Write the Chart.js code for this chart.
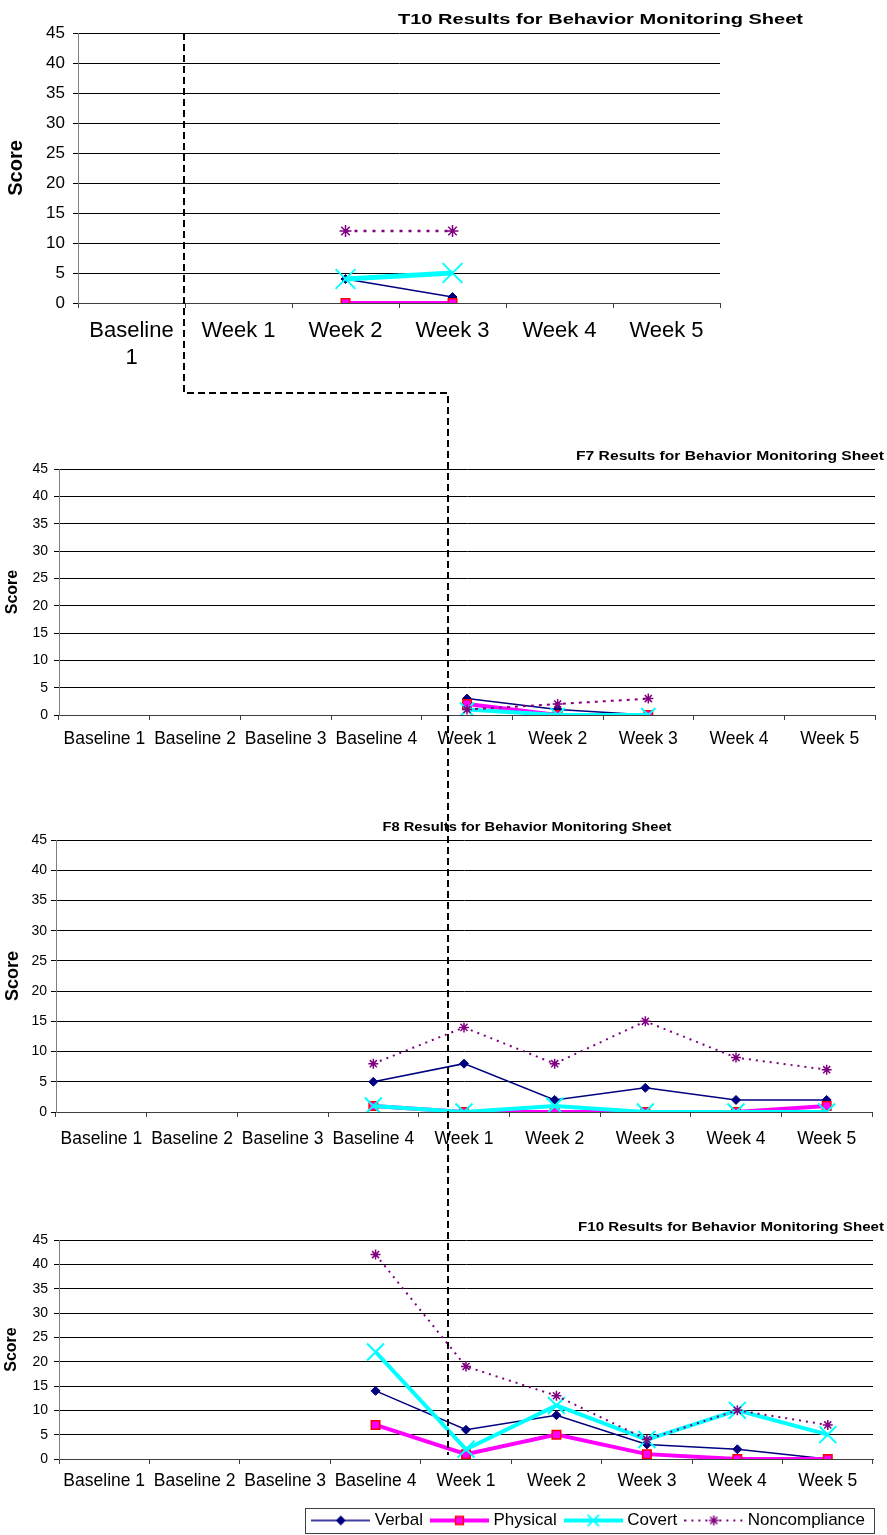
<!DOCTYPE html>
<html>
<head>
<meta charset="utf-8">
<script src="https://cdn.jsdelivr.net/npm/chart.js@4.4.0/dist/chart.umd.min.js"></script>
<style>
    html, body { margin: 0; padding: 0; background: #fff; overflow: hidden; }
    body { width: 887px; height: 1535px; position: relative; }
    .box { position: absolute; left: 0; width: 887px; }
    #connector { position: absolute; left: 0; top: 0; z-index: 10; pointer-events: none; }
</style>
</head>
<body>
<div class="box" style="top:0px"><canvas id="t10Chart" width="887" height="400"></canvas></div>
<div class="box" style="top:440px"><canvas id="f7Chart" width="887" height="320"></canvas></div>
<div class="box" style="top:800px"><canvas id="f8Chart" width="887" height="360"></canvas></div>
<div class="box" style="top:1200px"><canvas id="f10Chart" width="887" height="345"></canvas></div>
<canvas id="connector" width="887" height="1535"></canvas>

<script>
// Categories
const t10Labels = [['Baseline', '1'], 'Week 1', 'Week 2', 'Week 3', 'Week 4', 'Week 5'];
const fLabels = ['Baseline 1', 'Baseline 2', 'Baseline 3', 'Baseline 4', 'Week 1', 'Week 2', 'Week 3', 'Week 4', 'Week 5'];
const seriesNames = ['Verbal', 'Physical', 'Covert', 'Noncompliance'];

// T10
const t10Verbal = [null, null, 4, 1, null, null];
const t10Physical = [null, null, 0, 0, null, null];
const t10Covert = [null, null, 4, 5, null, null];
const t10Noncompliance = [null, null, 12, 12, null, null];

// F7
const f7Verbal = [null, null, null, null, 3, 1, 0, null, null];
const f7Physical = [null, null, null, null, 2, 0, 0, null, null];
const f7Covert = [null, null, null, null, 1, 0, 0, null, null];
const f7Noncompliance = [null, null, null, null, 1, 2, 3, null, null];

// F8
const f8Verbal = [null, null, null, 5, 8, 2, 4, 2, 2];
const f8Physical = [null, null, null, 1, 0, 0, 0, 0, 1];
const f8Covert = [null, null, null, 1, 0, 1, 0, 0, 0];
const f8Noncompliance = [null, null, null, 8, 14, 8, 15, 9, 7];

// F10
const f10Verbal = [null, null, null, 14, 6, 9, 3, 2, 0];
const f10Physical = [null, null, null, 7, 1, 5, 1, 0, 0];
const f10Covert = [null, null, null, 22, 2, 11, 4, 10, 5];
const f10Noncompliance = [null, null, null, 42, 19, 13, 4, 10, 7];

const FONT = "'Liberation Sans', Arial, sans-serif";

const seriesStyle = [
    { borderColor: '#000080', borderWidth: 1.5, pointStyle: 'rectRot', pointRadius: 4.5,
      pointBackgroundColor: '#000080', pointBorderColor: '#000080', pointBorderWidth: 1, order: 4 },
    { borderColor: '#ff00ff', borderWidth: 4, pointStyle: 'rect', pointRadius: 6,
      pointBackgroundColor: '#ff00ff', pointBorderColor: '#ff0000', pointBorderWidth: 1.5, order: 3 },
    { borderColor: '#00ffff', borderWidth: 4, pointStyle: 'crossRot', pointRadius: 12,
      pointBackgroundColor: '#00ffff', pointBorderColor: '#00ffff', pointBorderWidth: 2, order: 2 },
    { borderColor: '#800080', borderWidth: 2, borderDash: [2, 5], pointStyle: 'star', pointRadius: 5,
      pointBackgroundColor: '#800080', pointBorderColor: '#800080', pointBorderWidth: 1.5, order: 1 }
];

function buildDatasets(values, override) {
    return values.map((data, i) => Object.assign(
        { label: seriesNames[i], data: data, fill: false, tension: 0 },
        seriesStyle[i],
        (override && override[i]) || {}
    ));
}

// Title drawn to the spot and width it has in the sheet
const sheetTitle = {
    id: 'sheetTitle',
    afterDraw(chart, args, opts) {
        if (!opts || !opts.text) return;
        const ctx = chart.ctx;
        ctx.save();
        ctx.font = 'bold ' + opts.size + 'px ' + FONT;
        ctx.fillStyle = '#000';
        ctx.textBaseline = 'middle';
        const w = ctx.measureText(opts.text).width;
        const left = opts.align === 'center' ? opts.x - opts.width / 2 : opts.x - opts.width;
        ctx.translate(left, opts.y);
        ctx.scale(opts.width / w, 1);
        ctx.fillText(opts.text, 0, 0);
        ctx.restore();
    }
};

function buildOptions(cfg) {
    return {
        responsive: false,
        animation: false,
        events: [],
        layout: { padding: { top: cfg.top, right: cfg.right, bottom: cfg.bottom || 0, left: 0 } },
        scales: {
            x: {
                offset: true,
                grid: { display: true, drawOnChartArea: false, offset: true, tickLength: 5, color: '#404040' },
                border: { color: '#404040' },
                ticks: { font: { family: FONT, size: cfg.xFont }, color: '#000', padding: cfg.xPad,
                         maxRotation: 0, minRotation: 0, autoSkip: false },
                afterFit: s => { s.height = cfg.xHeight; }
            },
            y: {
                min: 0,
                max: 45,
                ticks: { stepSize: 5, font: { family: FONT, size: cfg.yFont }, color: '#000', padding: cfg.yPad },
                grid: { color: '#000', tickLength: 5 },
                border: { color: '#808080' },
                title: { display: true, text: 'Score', color: '#000',
                         font: { family: FONT, size: cfg.scoreFont, weight: 'bold' },
                         padding: { top: cfg.scorePad, bottom: 0 } },
                afterFit: s => { s.width = cfg.left; }
            }
        },
        plugins: {
            legend: { display: false },
            tooltip: { enabled: false },
            sheetTitle: cfg.title
        }
    };
}

// Small line + marker pictures for the legend
function makeSwatch(ds) {
    const c = document.createElement('canvas');
    c.width = 59;
    c.height = 18;
    const g = c.getContext('2d');
    g.strokeStyle = ds.borderColor;
    g.lineWidth = ds.borderWidth;
    g.setLineDash(ds.borderDash || []);
    g.beginPath();
    g.moveTo(0, 9);
    g.lineTo(59, 9);
    g.stroke();
    g.setLineDash([]);
    g.fillStyle = ds.pointBackgroundColor;
    g.strokeStyle = ds.pointBorderColor;
    g.lineWidth = ds.pointBorderWidth;
    const r = ds.pointStyle === 'crossRot' ? 8 : ds.pointStyle === 'rect' ? 5.5 : ds.pointRadius;
    Chart.helpers.drawPoint(g, { pointStyle: ds.pointStyle, radius: r, rotation: 0, borderWidth: ds.pointBorderWidth }, 29.5, 9);
    return c;
}

const legendFrame = {
    id: 'legendFrame',
    afterDraw(chart) {
        const boxes = chart.legend && chart.legend.legendHitBoxes;
        if (!boxes || !boxes.length) return;
        const first = boxes[0];
        const last = boxes[boxes.length - 1];
        const ctx = chart.ctx;
        const x0 = Math.round(first.left - 10) + 0.5;
        const x1 = Math.round(last.left + last.width + 9) + 0.5;
        const cy = first.top + first.height / 2;
        const y0 = Math.round(cy - 12.5) + 0.5;
        ctx.save();
        ctx.strokeStyle = '#404040';
        ctx.lineWidth = 1;
        ctx.strokeRect(x0, y0, x1 - x0, 25);
        ctx.restore();
    }
};

function initCharts() {
    // T10
    new Chart(document.getElementById('t10Chart').getContext('2d'), {
        type: 'line',
        data: {
            labels: t10Labels,
            datasets: buildDatasets([t10Verbal, t10Physical, t10Covert, t10Noncompliance], [
                {}, {}, { borderWidth: 5, pointRadius: 14 },
                { borderWidth: 2.5, borderDash: [3, 6], pointRadius: 6 }
            ])
        },
        options: buildOptions({
            top: 33, right: 167, left: 78, xHeight: 97,
            xFont: 22, xPad: 10, yFont: 17, yPad: 8, scoreFont: 20, scorePad: 4,
            title: { text: 'T10 Results for Behavior Monitoring Sheet', x: 803, y: 20, width: 405, size: 14 }
        }),
        plugins: [sheetTitle]
    });

    // F7
    new Chart(document.getElementById('f7Chart').getContext('2d'), {
        type: 'line',
        data: {
            labels: fLabels,
            datasets: buildDatasets([f7Verbal, f7Physical, f7Covert, f7Noncompliance],
                [{}, {}, { pointRadius: 10 }, { borderDash: [3, 5] }])
        },
        options: buildOptions({
            top: 29, right: 11, left: 59, xHeight: 45,
            xFont: 17.5, xPad: 9, yFont: 14, yPad: 6, scoreFont: 16, scorePad: 3,
            title: { text: 'F7 Results for Behavior Monitoring Sheet', x: 884, y: 17, width: 308, size: 12.5 }
        }),
        plugins: [sheetTitle]
    });

    // F8
    new Chart(document.getElementById('f8Chart').getContext('2d'), {
        type: 'line',
        data: {
            labels: fLabels,
            datasets: buildDatasets([f8Verbal, f8Physical, f8Covert, f8Noncompliance])
        },
        options: buildOptions({
            top: 40, right: 15, left: 56, xHeight: 48,
            xFont: 17.5, xPad: 12, yFont: 14, yPad: 4, scoreFont: 18, scorePad: 2,
            title: { text: 'F8 Results for Behavior Monitoring Sheet', x: 527, y: 28, width: 289, size: 12.5, align: 'center' }
        }),
        plugins: [sheetTitle]
    });

    // F10 with the shared legend
    const f10Datasets = buildDatasets([f10Verbal, f10Physical, f10Covert, f10Noncompliance]);
    const swatches = f10Datasets.map(makeSwatch);
    const f10Options = buildOptions({
        top: 40, right: 11, left: 59, bottom: 6, xHeight: 42,
        xFont: 17.5, xPad: 7, yFont: 14, yPad: 6, scoreFont: 16, scorePad: 2,
        title: { text: 'F10 Results for Behavior Monitoring Sheet', x: 884, y: 28, width: 306, size: 12.5 }
    });
    f10Options.plugins.legend = {
        display: true,
        position: 'bottom',
        align: 'end',
        labels: {
            usePointStyle: true,
            pointStyleWidth: 51,
            padding: 11,
            color: '#000',
            font: { family: FONT, size: 17 },
            generateLabels: chart => chart.data.datasets.map((ds, i) => ({
                text: ds.label,
                pointStyle: swatches[i],
                datasetIndex: i,
                hidden: false,
                lineWidth: 0,
                fillStyle: ds.borderColor,
                strokeStyle: ds.borderColor,
                fontColor: '#000',
                rotation: 0
            }))
        }
    };
    new Chart(document.getElementById('f10Chart').getContext('2d'), {
        type: 'line',
        data: { labels: fLabels, datasets: f10Datasets },
        options: f10Options,
        plugins: [sheetTitle, legendFrame]
    });
}

// Phase change line running through the four charts
function drawConnector() {
    const ctx = document.getElementById('connector').getContext('2d');
    ctx.strokeStyle = '#000';
    ctx.lineWidth = 2;
    ctx.setLineDash([7, 4]);
    ctx.beginPath();
    ctx.moveTo(184, 33);
    ctx.lineTo(184, 393);
    ctx.lineTo(448, 393);
    ctx.lineTo(448, 1455);
    ctx.stroke();
}

initCharts();
drawConnector();
</script>
</body>
</html>
